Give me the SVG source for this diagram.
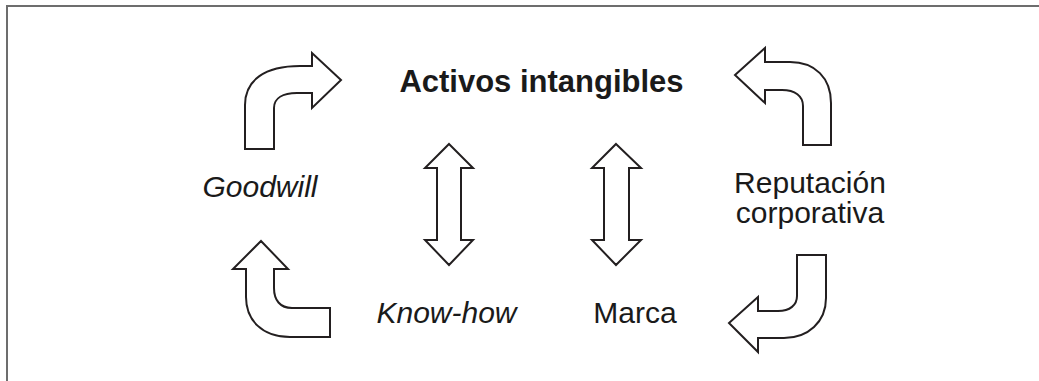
<svg xmlns="http://www.w3.org/2000/svg" width="1039" height="381" viewBox="0 0 1039 381">
<style>
.t{font-family:"Liberation Sans",Arial,sans-serif;font-size:30px;fill:#1a1a1a;text-anchor:middle}
.b{font-weight:bold;font-size:31px}
.i{font-style:italic}
.a{fill:#fff;stroke:#231f20;stroke-width:2;stroke-linejoin:miter}
</style>
<rect width="1039" height="381" fill="#fff"/>
<path d="M7,381 L7,6 L1039,6" fill="none" stroke="#6d6d6d" stroke-width="2"/>
<g id="connectors">
<path class="a" d="M245,149 L245,105 C245,80 265,66 300,66 L312,66 L312,53 L341,80 L312,108 L312,93 L297,93 C283,93 274,98 274,108 L274,149 Z"/>
<path class="a" d="M803,145 L803,106 C803,96 795,90 782,90 L765,90 L765,103 L735,75 L765,48 L765,62 L790,62 C815,62 831,78 831,103 L831,145 Z"/>
<path class="a" d="M261,241 L288,269 L274,269 L274,288 C274,300 280,308 292,308 L330,308 L330,337 L290,337 C262,337 246,320 246,297 L246,269 L233,269 Z"/>
<path class="a" d="M797,255 L826,255 L826,298 C826,322 808,338 784,338 L758,338 L758,352 L729,323 L758,297 L758,311 L778,311 C790,311 797,305 797,296 Z"/>
<path class="a" d="M449,144 L473,168 L461,168 L461,240 L473,240 L449,265 L425,240 L437,240 L437,168 L425,168 Z"/>
<path class="a" d="M616,144 L641,168 L629,168 L629,240 L641,240 L616,265 L592,240 L604,240 L604,168 L592,168 Z"/>
</g>
<g id="activos"><text class="t b" x="541.5" y="92">Activos intangibles</text></g>
<g id="goodwill"><text class="t i" x="260" y="197">Goodwill</text></g>
<g id="reputacion"><text class="t" x="810" y="193">Reputación</text><text class="t" x="810" y="223">corporativa</text></g>
<g id="knowhow"><text class="t i" x="446.5" y="323">Know-how</text></g>
<g id="marca"><text class="t" x="635" y="323">Marca</text></g>
</svg>
